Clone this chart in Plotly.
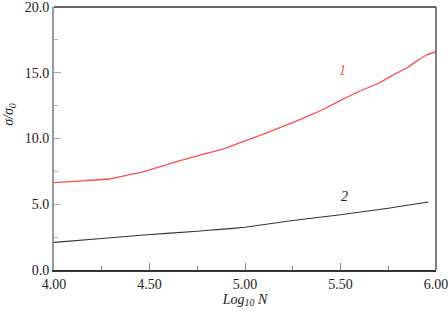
import plotly.graph_objects as go

curve1_x = [4.0, 4.15, 4.29, 4.47, 4.66, 4.73, 4.86, 4.895, 5.0, 5.1, 5.29, 5.4, 5.5, 5.6, 5.7, 5.76, 5.85, 5.9, 5.95, 6.0]
curve1_y = [6.64, 6.78, 6.92, 7.48, 8.31, 8.6, 9.1, 9.25, 9.82, 10.35, 11.45, 12.15, 12.9, 13.6, 14.2, 14.7, 15.4, 15.9, 16.35, 16.6]
curve2_x = [4.0, 4.25, 4.47, 4.75, 4.87, 5.0, 5.24, 5.5, 5.75, 5.96]
curve2_y = [2.1, 2.4, 2.66, 2.95, 3.09, 3.25, 3.75, 4.2, 4.7, 5.17]
labels = ["1", "2"]
label_x = [5.51, 5.52]
label_y = [15.2, 5.6]

FONT = "Liberation Serif, Times New Roman, Times, serif"

fig = go.Figure()
fig.add_trace(go.Scatter(x=curve1_x, y=curve1_y, mode="lines", line=dict(color="#ff4d4d", width=1.3, shape="spline", smoothing=0.2)))
fig.add_trace(go.Scatter(x=curve2_x, y=curve2_y, mode="lines", line=dict(color="#333333", width=1.1, shape="spline", smoothing=0.2)))

fig.add_annotation(x=label_x[0], y=label_y[0], text="<i>" + labels[0] + "</i>", showarrow=False, font=dict(color="#ff4d4d", size=14, family=FONT))
fig.add_annotation(x=label_x[1], y=label_y[1], text="<i>" + labels[1] + "</i>", showarrow=False, font=dict(color="#222222", size=14, family=FONT))

# y-axis title as annotation (placed above center like the reference)
fig.add_annotation(xref="paper", x=0, xshift=-44, xanchor="center", yref="y", y=11.8, yanchor="middle",
                   textangle=-90, showarrow=False,
                   text="<i>σ/σ<sub>0</sub></i>", font=dict(size=14, family=FONT, color="#222222"))

# top and right border
fig.add_shape(type="line", xref="paper", yref="paper", x0=0, x1=1, y0=1, y1=1, line=dict(color="#333333", width=1.5))
fig.add_shape(type="line", xref="paper", yref="paper", x0=1, x1=1, y0=0, y1=1, line=dict(color="#555555", width=1.5))

fig.update_layout(
    width=448, height=317,
    margin=dict(l=54, r=12, t=7, b=47),
    paper_bgcolor="white", plot_bgcolor="white",
    showlegend=False,
    font=dict(family=FONT, size=14, color="#222222"),
    xaxis=dict(range=[4.0, 6.0], tickvals=[4.0, 4.5, 5.0, 5.5, 6.0], tickformat=".2f", automargin=False,
               ticklabeloverflow="allow",
               ticks="inside", ticklen=7, tickcolor="#888888", showgrid=False, zeroline=False,
               showline=True, linecolor="#333333", linewidth=1.5,
               minor=dict(ticks="inside", ticklen=4, tickcolor="#888888", tickvals=[4.25, 4.75, 5.25, 5.75]),
               title=dict(text="<i>Log<sub>10</sub> N</i>", font=dict(size=14, family=FONT), standoff=2)),
    yaxis=dict(range=[0, 20], tickvals=[0, 5, 10, 15, 20], tickformat=".1f", automargin=False,
               ticklabeloverflow="allow",
               ticks="inside", ticklen=7, tickcolor="#aaaaaa", showgrid=False, zeroline=False,
               showline=True, linecolor="#999999", linewidth=2,
               minor=dict(ticks="inside", ticklen=4, tickcolor="#aaaaaa", tickvals=[2.5, 7.5, 12.5, 17.5])),
)

fig.write_html("out.html", config={"displayModeBar": False},
               post_script="document.body.style.margin='0';document.body.style.overflow='hidden';")
